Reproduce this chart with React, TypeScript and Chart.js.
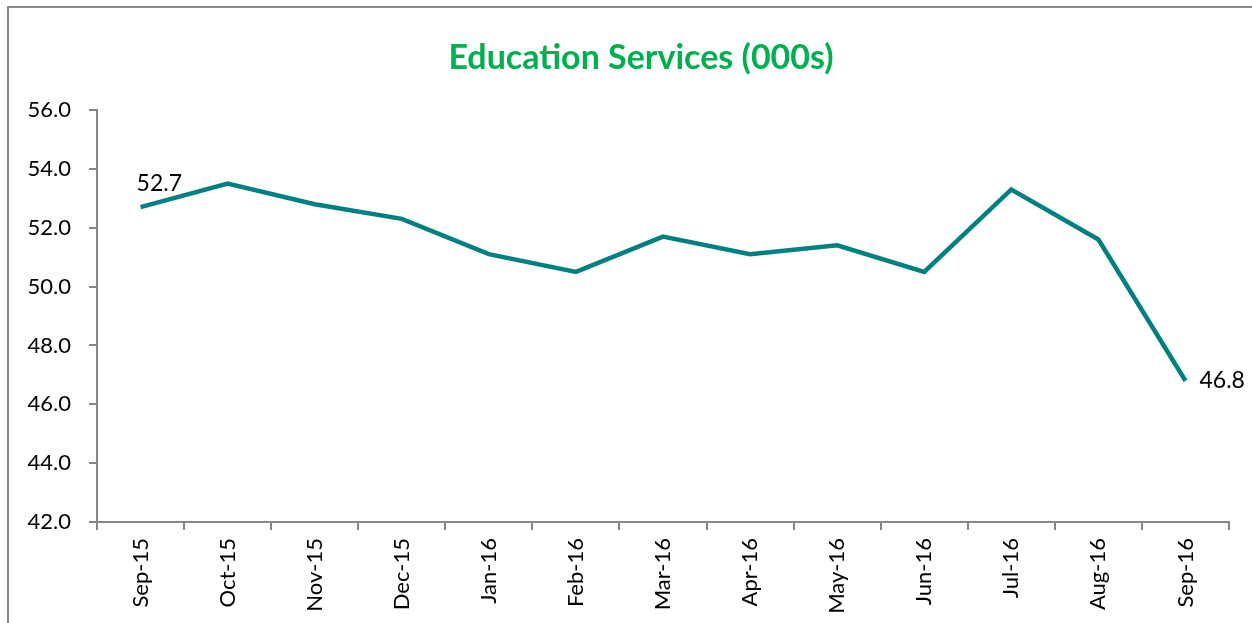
import React, { useEffect, useRef } from "react";
import { Chart, registerables } from "chart.js";

Chart.register(...registerables);

const categories = ["Sep-15", "Oct-15", "Nov-15", "Dec-15", "Jan-16", "Feb-16", "Mar-16", "Apr-16", "May-16", "Jun-16", "Jul-16", "Aug-16", "Sep-16"];
const values = [52.7, 53.5, 52.8, 52.3, 51.1, 50.5, 51.7, 51.1, 51.4, 50.5, 53.3, 51.6, 46.8];
const labelledIndices = [0, 12];
const titleText = "Education Services (000s)";
const yMin = 42;
const yMax = 56;
const yStep = 2;

const FONT = "Lato, 'Noto Sans', sans-serif";
const AXIS_COLOR = "#878787";
const LINE_COLOR = "#008080";

const titlePlugin = {
  id: "customTitle",
  afterDraw(chart: any) {
    const ctx = chart.ctx;
    ctx.save();
    ctx.font = `bold 34px ${FONT}`;
    ctx.fillStyle = "#00B050";
    ctx.textAlign = "center";
    ctx.textBaseline = "middle";
    ctx.fillText(titleText, 641, 58);
    ctx.restore();
  },
};

const pointLabelPlugin = {
  id: "pointLabels",
  afterDatasetsDraw(chart: any) {
    const ctx = chart.ctx;
    const meta = chart.getDatasetMeta(0);
    ctx.save();
    ctx.font = `23px ${FONT}`;
    ctx.fillStyle = "#000000";
    labelledIndices.forEach((i) => {
      const pt = meta.data[i];
      if (!pt) return;
      const txt = values[i].toFixed(1);
      ctx.textAlign = "left";
      ctx.textBaseline = "middle";
      if (i === 0) {
        ctx.fillText(txt, pt.x - 4, pt.y - 24);
      } else {
        ctx.fillText(txt, pt.x + 14, pt.y);
      }
    });
    ctx.restore();
  },
};

export default function App() {
  const canvasRef = useRef<HTMLCanvasElement | null>(null);

  useEffect(() => {
    if (!canvasRef.current) return;
    const chart = new Chart(canvasRef.current, {
      type: "line",
      data: {
        labels: categories,
        datasets: [
          {
            data: values,
            borderColor: LINE_COLOR,
            backgroundColor: LINE_COLOR,
            borderWidth: 4.5,
            pointRadius: 0,
            pointHoverRadius: 0,
            tension: 0,
            fill: false,
          },
        ],
      },
      options: {
        animation: false,
        responsive: true,
        maintainAspectRatio: false,
        layout: { padding: { top: 110, right: 23, bottom: 0, left: 0 } },
        plugins: {
          legend: { display: false },
          title: { display: false },
          tooltip: { enabled: false },
        },
        scales: {
          x: {
            type: "category",
            offset: true,
            border: { display: true, color: AXIS_COLOR, width: 2 },
            grid: {
              offset: true,
              drawOnChartArea: false,
              drawTicks: true,
              tickLength: 8,
              color: AXIS_COLOR,
              lineWidth: 2,
            },
            ticks: {
              minRotation: 90,
              maxRotation: 90,
              autoSkip: false,
              padding: 8,
              color: "#000000",
              font: { family: FONT, size: 22 },
            },
            afterFit(scale: any) {
              scale.height = 101;
            },
          },
          y: {
            min: yMin,
            max: yMax,
            border: { display: true, color: AXIS_COLOR, width: 2 },
            grid: {
              drawOnChartArea: false,
              drawTicks: true,
              tickLength: 8,
              color: AXIS_COLOR,
              lineWidth: 2,
            },
            ticks: {
              stepSize: yStep,
              padding: 18,
              color: "#000000",
              font: { family: FONT, size: 22 },
              callback: (v: any) => Number(v).toFixed(1),
            },
            afterFit(scale: any) {
              scale.width = 97;
            },
          },
        },
      },
      plugins: [titlePlugin, pointLabelPlugin],
    });
    return () => chart.destroy();
  }, []);

  return (
    <div style={{ position: "absolute", left: 0, top: 0, width: 1252, height: 623, overflow: "hidden", background: "#fff" }}>
      <div
        style={{
          position: "absolute",
          left: 7,
          top: 6,
          width: 1252,
          height: 623,
          borderTop: "2px solid #8a8a8a",
          borderLeft: "2px solid #8a8a8a",
          boxSizing: "border-box",
        }}
      />
      <div style={{ position: "absolute", left: 0, top: 0, width: 1252, height: 623 }}>
        <canvas ref={canvasRef} />
      </div>
    </div>
  );
}
